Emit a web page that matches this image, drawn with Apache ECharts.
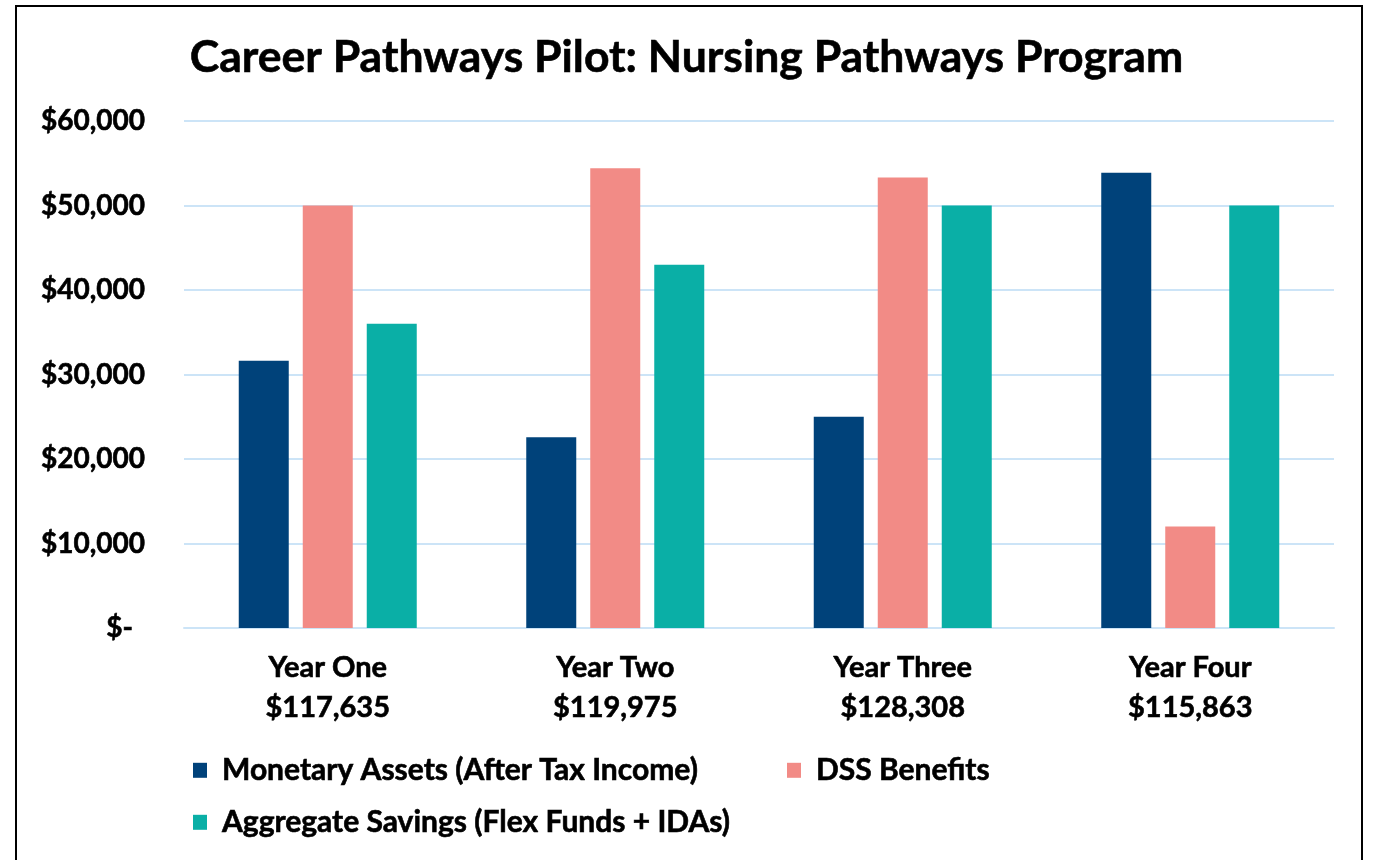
<!DOCTYPE html>
<html><head><meta charset="utf-8">
<script src="https://cdn.jsdelivr.net/npm/echarts@6/dist/echarts.min.js"></script>
<style>html,body{margin:0;padding:0;background:#fff}#c{width:1373px;height:860px}</style>
</head><body><div id="c"></div>
<script>
const categories = ['Year One', 'Year Two', 'Year Three', 'Year Four'];
const totals = ['$117,635', '$119,975', '$128,308', '$115,863'];
const monetaryAssets = [31635, 22575, 25000, 53863];
const dssBenefits = [50000, 54400, 53308, 12000];
const aggregateSavings = [36000, 43000, 50000, 50000];
const seriesNames = ['Monetary Assets (After Tax Income)', 'DSS Benefits', 'Aggregate Savings (Flex Funds + IDAs)'];
const colors = ['#00427A', '#F28B86', '#0AAFA6'];

const FONT = 'Lato';
const bold = {fontFamily: FONT, fontWeight: 'bold', color: '#000', textBorderColor: '#000', textBorderWidth: 0.6};
const chart = echarts.init(document.getElementById('c'), null, {renderer: 'canvas'});
const legendText = Object.assign({fontSize: 30, padding: [0, 0, 0, 10]}, bold);
const mkLegend = (name, left, top) => ({
  data: [name], left: left, top: top, padding: 0, itemWidth: 14, itemHeight: 15, itemGap: 15,
  icon: 'rect', textStyle: legendText, selectedMode: false
});
chart.setOption({
  animation: false,
  backgroundColor: '#fff',
  graphic: [{type: 'rect', shape: {x: 16, y: 6, width: 1346, height: 900}, style: {fill: 'none', stroke: '#000', lineWidth: 2}, silent: true}],
  title: {text: 'Career Pathways Pilot: Nursing Pathways Program', left: 'center', top: 30,
    textStyle: Object.assign({fontSize: 44.5}, bold)},
  legend: [mkLegend(seriesNames[0], 193, 755), mkLegend(seriesNames[1], 787, 755), mkLegend(seriesNames[2], 193, 807)],
  grid: {left: 184, right: 39, top: 121, bottom: 232, containLabel: false},
  xAxis: {type: 'category', data: categories,
    axisLine: {show: true, lineStyle: {color: '#CCE4F7', width: 2}}, axisTick: {show: false},
    axisLabel: Object.assign({interval: 0, margin: 20, lineHeight: 40, fontSize: 29,
      formatter: (v, i) => v + '\n' + totals[i]}, bold)},
  yAxis: {type: 'value', min: 0, max: 60000, interval: 10000,
    axisLine: {show: false}, axisTick: {show: false},
    splitLine: {lineStyle: {color: '#CCE4F7', width: 2}},
    axisLabel: Object.assign({margin: 39, fontSize: 28,
      formatter: v => v === 0 ? '{z|$-}' : '$' + v.toLocaleString('en-US'),
      rich: {z: Object.assign({fontSize: 28, padding: [0, 12, 0, 0]}, bold)}}, bold)},
  series: [
    {name: seriesNames[0], type: 'bar', data: monetaryAssets, barWidth: 50, barGap: '28%', itemStyle: {color: colors[0]}},
    {name: seriesNames[1], type: 'bar', data: dssBenefits, barWidth: 50, barGap: '28%', itemStyle: {color: colors[1]}},
    {name: seriesNames[2], type: 'bar', data: aggregateSavings, barWidth: 50, barGap: '28%', itemStyle: {color: colors[2]}}
  ]
});
</script></body></html>
